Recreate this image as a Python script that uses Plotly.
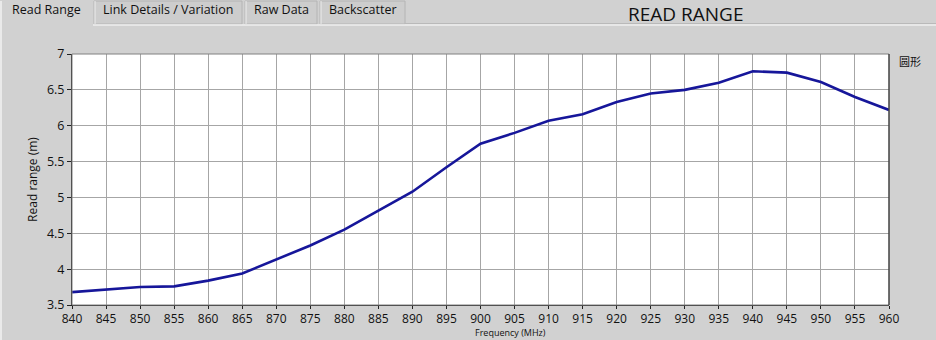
import plotly.graph_objects as go

freq = [840, 845, 850, 855, 860, 865, 870, 875, 880, 885, 890, 895, 900,
        905, 910, 915, 920, 925, 930, 935, 940, 945, 950, 955, 960]
read_range = [3.68, 3.71, 3.75, 3.76, 3.84, 3.94, 4.14, 4.33, 4.55, 4.82, 5.08, 5.42, 5.75,
              5.90, 6.07, 6.16, 6.33, 6.45, 6.50, 6.60, 6.76, 6.74, 6.61, 6.40, 6.22]
x_ticks = list(range(840, 961, 5))
y_ticks = [3.5, 4, 4.5, 5, 5.5, 6, 6.5, 7]
y_tick_labels = ["3.5", "4", "4.5", "5", "5.5", "6", "6.5", "7"]
tabs = ["Read Range", "Link Details / Variation", "Raw Data", "Backscatter"]

W, H = 936, 340
L, R, T, B = 72, 889, 54, 305
BG = "#d1d1d1"
FONT = "Open Sans, DejaVu Sans, sans-serif"


def px(x):
    return (x - L) / (R - L)


def py(y):
    return (B - y) / (B - T)


fig = go.Figure()
fig.add_trace(go.Scatter(x=freq, y=read_range, mode="lines",
                         line=dict(color="#16169a", width=2.6),
                         name="圆形", showlegend=False, hoverinfo="x+y"))

shapes = []
annotations = []

# tab strip
tab_geom = [(0, 93), (94, 242), (245, 317), (320, 405)]
for i, (name, (x0, x1)) in enumerate(zip(tabs, tab_geom)):
    if i == 0:
        shapes.append(dict(type="line", xref="paper", yref="paper",
                           x0=px(x0 + 1), x1=px(x0 + 1), y0=py(1), y1=py(340),
                           line=dict(color="#f2f2f2", width=1.5)))
    else:
        shapes.append(dict(type="rect", xref="paper", yref="paper",
                           x0=px(x0), x1=px(x1), y0=py(1), y1=py(24),
                           fillcolor="#cdcdcd", line=dict(color="#b4b4b4", width=1), layer="below"))
        shapes.append(dict(type="line", xref="paper", yref="paper",
                           x0=px(x0 + 1), x1=px(x0 + 1), y0=py(1), y1=py(24),
                           line=dict(color="#ededed", width=1)))
    annotations.append(dict(text=name, xref="paper", yref="paper",
                            x=px((x0 + x1) / 2), y=py(10), showarrow=False,
                            font=dict(family=FONT, size=12.5, color="#111111"),
                            xanchor="center", yanchor="middle"))

# line under tabs
shapes.append(dict(type="line", xref="paper", yref="paper",
                   x0=px(93), x1=px(936), y0=py(25), y1=py(25),
                   line=dict(color="#eeeeee", width=1.5)))
shapes.append(dict(type="line", xref="paper", yref="paper",
                   x0=px(405), x1=px(936), y0=py(23.5), y1=py(23.5),
                   line=dict(color="#b9b9b9", width=1)))

# plot border
shapes.append(dict(type="rect", xref="paper", yref="paper", x0=0, x1=1, y0=0, y1=1,
                   line=dict(color="#808080", width=1)))
shapes.append(dict(type="line", xref="paper", yref="paper", x0=1, x1=1, y0=0, y1=1,
                   line=dict(color="#222222", width=1)))

annotations.append(dict(text="READ RANGE", xref="paper", yref="paper",
                        x=px(685), y=py(14), showarrow=False,
                        font=dict(family=FONT, size=19, color="#111111"),
                        xanchor="center", yanchor="middle"))
annotations.append(dict(text="圆形", xref="paper", yref="paper",
                        x=px(897), y=py(61), showarrow=False,
                        font=dict(family="Noto Sans CJK SC", size=11, color="#111111"),
                        xanchor="left", yanchor="middle"))
annotations.append(dict(text="Frequency (MHz)", xref="paper", yref="paper",
                        x=px(510), y=py(340.5), showarrow=False,
                        font=dict(family=FONT, size=9, color="#111111"),
                        xanchor="center", yanchor="bottom"))

fig.update_layout(
    width=W, height=H,
    margin=dict(l=L, r=W - R, t=T, b=H - B),
    paper_bgcolor=BG, plot_bgcolor="white",
    font=dict(family=FONT, size=12, color="#111111"),
    shapes=shapes, annotations=annotations,
    showlegend=False,
)
fig.update_xaxes(range=[840, 960], tickvals=x_ticks, ticktext=[str(v) for v in x_ticks],
                 showgrid=True, gridcolor="#a6a6a6", gridwidth=1,
                 ticks="outside", ticklen=3, tickcolor="#222222",
                 showline=True, linecolor="#222222", linewidth=1,
                 zeroline=False, tickfont=dict(size=12))
fig.update_yaxes(range=[3.5, 7], tickvals=y_ticks, ticktext=y_tick_labels,
                 showgrid=True, gridcolor="#a6a6a6", gridwidth=1,
                 ticks="outside", ticklen=4, tickcolor="#222222",
                 showline=True, linecolor="#222222", linewidth=1,
                 zeroline=False, tickfont=dict(size=12.5),
                 title=dict(text="Read range (m)", font=dict(size=12), standoff=6))

fig.write_html("out.html")
